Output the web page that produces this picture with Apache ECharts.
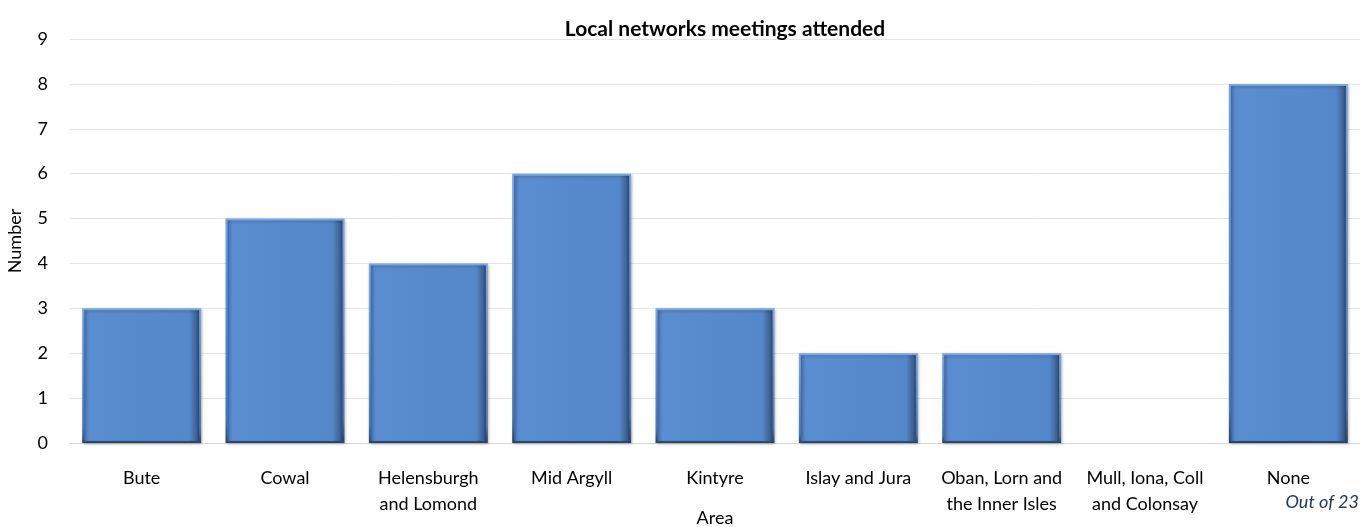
<!DOCTYPE html>
<html><head><meta charset="utf-8">
<script src="https://cdn.jsdelivr.net/npm/echarts@6/dist/echarts.min.js"></script>
<style>html,body{margin:0;padding:0;background:#fff}#c{width:1362px;height:527px}</style>
</head><body><div id="c"></div>
<script>
const categories = ["Bute","Cowal","Helensburgh\nand Lomond","Mid Argyll","Kintyre","Islay and Jura","Oban, Lorn and\nthe Inner Isles","Mull, Iona, Coll\nand Colonsay","None"];
const values = [3,5,4,6,3,2,2,0,8];
const yTicks = [0,1,2,3,4,5,6,7,8,9];
const FONT = 'Lato, "Open Sans", sans-serif';
const chart = echarts.init(document.getElementById('c'));
chart.setOption({
  animation:false,
  title:{text:'Local networks meetings attended',left:720,top:14,textAlign:'center',
    textStyle:{fontFamily:FONT,fontSize:21,fontWeight:'bold',color:'#000'}},
  graphic:[{type:'text',right:3,top:493,style:{text:'Out of 23',fontFamily:FONT,fontSize:18,fontStyle:'italic',fill:'#1f3864'}}],
  grid:{left:70,right:2,top:39,bottom:84,outerBoundsMode:'none',containLabel:false},
  xAxis:{type:'category',data:categories,name:'Area',nameLocation:'middle',nameGap:66,nameMoveOverlap:false,
    nameTextStyle:{fontFamily:FONT,fontSize:18,color:'#000',verticalAlign:'top'},
    axisLine:{show:true,lineStyle:{color:'#d9d9d9'}},axisTick:{show:false},
    axisLabel:{fontFamily:FONT,fontSize:18,color:'#000',margin:22,lineHeight:26,interval:0}},
  yAxis:{type:'value',min:0,max:9,interval:1,name:'Number',nameLocation:'middle',nameGap:46,nameMoveOverlap:false,
    nameTextStyle:{fontFamily:FONT,fontSize:18,color:'#000'},
    axisLabel:{fontFamily:FONT,fontSize:18,color:'#000',margin:22,formatter:v=>yTicks.includes(v)?String(v):''},
    splitLine:{lineStyle:{color:'#e6e6e6'}},axisLine:{show:false},axisTick:{show:false}},
  series:[{type:'bar',barCategoryGap:'17%',
    data:values.map(v=>v===0?{value:v,itemStyle:{borderWidth:0,shadowBlur:0,opacity:0}}:v),
    itemStyle:{
      color:{type:'linear',x:0,y:0,x2:1,y2:0,colorStops:[
        {offset:0,color:'#4270ad'},{offset:0.06,color:'#5a8cd0'},{offset:0.9,color:'#5588cb'},
        {offset:0.96,color:'#3d6396'},{offset:1,color:'#1f3450'}]},
      borderColor:{type:'linear',x:0,y:0,x2:0,y2:1,colorStops:[
        {offset:0,color:'#7aa6e0'},{offset:0.9,color:'#4a76b0'},{offset:1,color:'#2a4468'}]},
      borderWidth:2,
      shadowColor:'rgba(0,0,0,0.25)',shadowBlur:3,shadowOffsetX:1,shadowOffsetY:1
    }}]
});
</script></body></html>
